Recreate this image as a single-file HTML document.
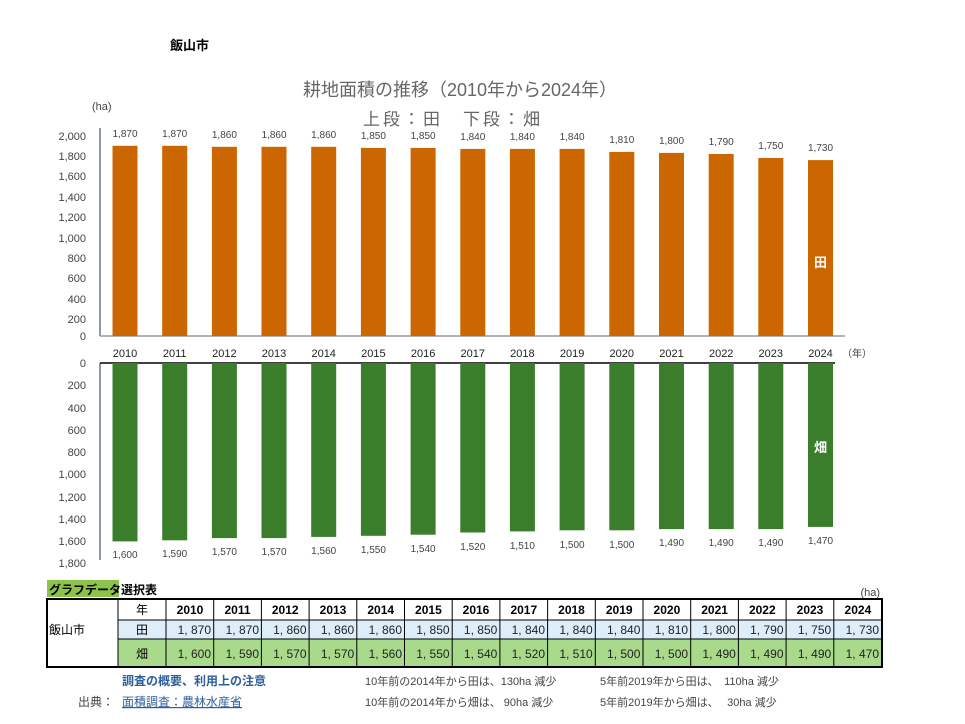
<!DOCTYPE html>
<html><head><meta charset="utf-8"><style>
html,body{margin:0;padding:0;background:#fff}
svg{display:block;font-family:"Liberation Sans","Noto Sans CJK JP",sans-serif}
</style></head><body>
<svg width="965" height="724" viewBox="0 0 965 724" xmlns="http://www.w3.org/2000/svg">
<text x="170" y="50" font-size="13" font-weight="bold">飯山市</text>
<text x="460" y="96" font-size="18" fill="#666" text-anchor="middle">耕地面積の推移（2010年から2024年）</text>
<text x="453" y="125" font-size="17" fill="#666" text-anchor="middle" letter-spacing="3">上段：田　下段：畑</text>
<text x="92" y="110" font-size="11" fill="#444">(ha)</text>
<g font-size="11" fill="#444" text-anchor="end">
<text x="86" y="140">2,000</text><text x="86" y="160">1,800</text><text x="86" y="180">1,600</text><text x="86" y="201">1,400</text><text x="86" y="221">1,200</text><text x="86" y="242">1,000</text><text x="86" y="262">800</text><text x="86" y="282">600</text><text x="86" y="303">400</text><text x="86" y="323">200</text><text x="86" y="340">0</text>
<text x="86" y="367">0</text><text x="86" y="389">200</text><text x="86" y="412">400</text><text x="86" y="434">600</text><text x="86" y="456">800</text><text x="86" y="478">1,000</text><text x="86" y="501">1,200</text><text x="86" y="523">1,400</text><text x="86" y="545">1,600</text><text x="86" y="567">1,800</text>
</g>
<line x1="100" y1="128" x2="100" y2="336" stroke="#44546a" stroke-width="1.2"/>
<line x1="100" y1="336" x2="845" y2="336" stroke="#999" stroke-width="1.5"/>
<line x1="100" y1="363" x2="100" y2="560" stroke="#44546a" stroke-width="1.2"/>
<line x1="100" y1="363" x2="835" y2="363" stroke="#000" stroke-width="1.5"/>
<g fill="#cc6600">
<rect x="112.5" y="145.8" width="25" height="190.2"/><rect x="162.2" y="145.8" width="25" height="190.2"/><rect x="211.9" y="146.8" width="25" height="189.2"/><rect x="261.5" y="146.8" width="25" height="189.2"/><rect x="311.2" y="146.8" width="25" height="189.2"/><rect x="360.9" y="147.9" width="25" height="188.1"/><rect x="410.6" y="147.9" width="25" height="188.1"/><rect x="460.3" y="148.9" width="25" height="187.1"/><rect x="509.9" y="148.9" width="25" height="187.1"/><rect x="559.6" y="148.9" width="25" height="187.1"/><rect x="609.3" y="151.9" width="25" height="184.1"/><rect x="659" y="152.9" width="25" height="183.1"/><rect x="708.7" y="154" width="25" height="182"/><rect x="758.3" y="158" width="25" height="178"/><rect x="808" y="160.1" width="25" height="175.9"/>
</g>
<g fill="#3a7d2a">
<rect x="112.5" y="363" width="25" height="178.4"/><rect x="162.2" y="363" width="25" height="177.3"/><rect x="211.9" y="363" width="25" height="175.1"/><rect x="261.5" y="363" width="25" height="175.1"/><rect x="311.2" y="363" width="25" height="173.9"/><rect x="360.9" y="363" width="25" height="172.8"/><rect x="410.6" y="363" width="25" height="171.7"/><rect x="460.3" y="363" width="25" height="169.5"/><rect x="509.9" y="363" width="25" height="168.4"/><rect x="559.6" y="363" width="25" height="167.3"/><rect x="609.3" y="363" width="25" height="167.3"/><rect x="659" y="363" width="25" height="166.1"/><rect x="708.7" y="363" width="25" height="166.1"/><rect x="758.3" y="363" width="25" height="166.1"/><rect x="808" y="363" width="25" height="163.9"/>
</g>
<g font-size="10" fill="#444" text-anchor="middle">
<text x="125" y="137">1,870</text><text x="174.7" y="137">1,870</text><text x="224.4" y="138">1,860</text><text x="274" y="138">1,860</text><text x="323.7" y="138">1,860</text><text x="373.4" y="139">1,850</text><text x="423.1" y="139">1,850</text><text x="472.8" y="140">1,840</text><text x="522.4" y="140">1,840</text><text x="572.1" y="140">1,840</text><text x="621.8" y="143">1,810</text><text x="671.5" y="144">1,800</text><text x="721.2" y="145">1,790</text><text x="770.8" y="149">1,750</text><text x="820.5" y="151">1,730</text>
<text x="125" y="558">1,600</text><text x="174.7" y="557">1,590</text><text x="224.4" y="555">1,570</text><text x="274" y="555">1,570</text><text x="323.7" y="554">1,560</text><text x="373.4" y="553">1,550</text><text x="423.1" y="552">1,540</text><text x="472.8" y="550">1,520</text><text x="522.4" y="549">1,510</text><text x="572.1" y="548">1,500</text><text x="621.8" y="548">1,500</text><text x="671.5" y="546">1,490</text><text x="721.2" y="546">1,490</text><text x="770.8" y="546">1,490</text><text x="820.5" y="544">1,470</text>
</g>
<g font-size="11" fill="#222" text-anchor="middle">
<text x="125" y="357">2010</text><text x="174.7" y="357">2011</text><text x="224.4" y="357">2012</text><text x="274" y="357">2013</text><text x="323.7" y="357">2014</text><text x="373.4" y="357">2015</text><text x="423.1" y="357">2016</text><text x="472.8" y="357">2017</text><text x="522.4" y="357">2018</text><text x="572.1" y="357">2019</text><text x="621.8" y="357">2020</text><text x="671.5" y="357">2021</text><text x="721.2" y="357">2022</text><text x="770.8" y="357">2023</text><text x="820.5" y="357">2024</text>
</g>
<text x="842" y="357" font-size="10" fill="#444">（年）</text>
<text x="820.5" y="267" font-size="13" font-weight="bold" fill="#fff" text-anchor="middle">田</text>
<text x="820.5" y="452" font-size="13" font-weight="bold" fill="#fff" text-anchor="middle">畑</text>

<rect x="47" y="580" width="72" height="17" fill="#8dc34a"/>
<text x="49" y="594" font-size="12" font-weight="bold">グラフデータ選択表</text>
<text x="880" y="596" font-size="11" fill="#444" text-anchor="end">(ha)</text>
<rect x="118" y="620" width="764" height="19" fill="#ddeefa"/>
<rect x="118" y="639" width="764" height="28" fill="#a9d98a"/>
<g stroke="#000" stroke-width="1" fill="none">
<rect x="47" y="599" width="835" height="68" stroke-width="2"/>
<line x1="118" y1="620" x2="882" y2="620"/><line x1="118" y1="639" x2="882" y2="639"/>
<line x1="118" y1="599" x2="118" y2="667"/><line x1="166" y1="599" x2="166" y2="667"/>
<line x1="213.7" y1="599" x2="213.7" y2="667"/><line x1="261.4" y1="599" x2="261.4" y2="667"/><line x1="309.1" y1="599" x2="309.1" y2="667"/><line x1="356.8" y1="599" x2="356.8" y2="667"/><line x1="404.5" y1="599" x2="404.5" y2="667"/><line x1="452.2" y1="599" x2="452.2" y2="667"/><line x1="499.9" y1="599" x2="499.9" y2="667"/><line x1="547.6" y1="599" x2="547.6" y2="667"/><line x1="595.3" y1="599" x2="595.3" y2="667"/><line x1="643" y1="599" x2="643" y2="667"/><line x1="690.7" y1="599" x2="690.7" y2="667"/><line x1="738.4" y1="599" x2="738.4" y2="667"/><line x1="786.1" y1="599" x2="786.1" y2="667"/><line x1="833.8" y1="599" x2="833.8" y2="667"/>
</g>
<text x="49" y="634" font-size="12">飯山市</text>
<g font-size="12" text-anchor="middle">
<text x="142" y="614">年</text><text x="142" y="634">田</text><text x="142" y="658">畑</text>
</g>
<g font-size="12" font-weight="bold" text-anchor="middle">
<text x="190" y="614">2010</text><text x="237.5" y="614">2011</text><text x="285.2" y="614">2012</text><text x="333" y="614">2013</text><text x="380.7" y="614">2014</text><text x="428.4" y="614">2015</text><text x="476" y="614">2016</text><text x="523.8" y="614">2017</text><text x="571.5" y="614">2018</text><text x="619.2" y="614">2019</text><text x="666.9" y="614">2020</text><text x="714.6" y="614">2021</text><text x="762.3" y="614">2022</text><text x="810" y="614">2023</text><text x="857.9" y="614">2024</text>
</g>
<g font-size="12" text-anchor="end" fill="#222">
<text x="211" y="634">1, 870</text><text x="259" y="634">1, 870</text><text x="306.5" y="634">1, 860</text><text x="354.2" y="634">1, 860</text><text x="402" y="634">1, 860</text><text x="449.6" y="634">1, 850</text><text x="497.3" y="634">1, 850</text><text x="545" y="634">1, 840</text><text x="592.7" y="634">1, 840</text><text x="640.4" y="634">1, 840</text><text x="688.1" y="634">1, 810</text><text x="735.8" y="634">1, 800</text><text x="783.5" y="634">1, 790</text><text x="831.2" y="634">1, 750</text><text x="879" y="634">1, 730</text>
<text x="211" y="658">1, 600</text><text x="259" y="658">1, 590</text><text x="306.5" y="658">1, 570</text><text x="354.2" y="658">1, 570</text><text x="402" y="658">1, 560</text><text x="449.6" y="658">1, 550</text><text x="497.3" y="658">1, 540</text><text x="545" y="658">1, 520</text><text x="592.7" y="658">1, 510</text><text x="640.4" y="658">1, 500</text><text x="688.1" y="658">1, 500</text><text x="735.8" y="658">1, 490</text><text x="783.5" y="658">1, 490</text><text x="831.2" y="658">1, 490</text><text x="879" y="658">1, 470</text>
</g>
<text x="122" y="685" font-size="12" font-weight="bold" fill="#2f5f9a">調査の概要、利用上の注意</text>
<text x="78" y="706" font-size="12" fill="#444">出典：</text>
<text x="122" y="706" font-size="12" fill="#2f5f9a" text-decoration="underline">面積調査：農林水産省</text>
<g font-size="11" fill="#444">
<text x="365" y="685">10年前の2014年から田は、130ha 減少</text>
<text x="365" y="706">10年前の2014年から畑は、 90ha 減少</text>
<text x="600" y="685">5年前2019年から田は、　110ha 減少</text>
<text x="600" y="706">5年前2019年から畑は、　 30ha 減少</text>
</g>
</svg>
</body></html>
